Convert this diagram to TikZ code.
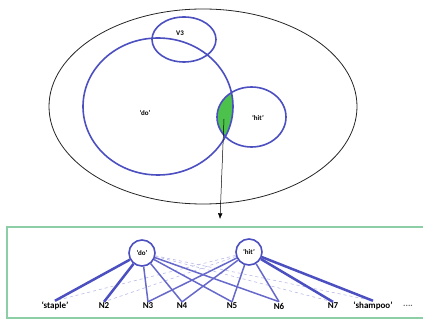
\documentclass[tikz,border=0pt]{standalone}
\usepackage{fontspec}
\setsansfont{Carlito}
\usepackage{tikz}
\usetikzlibrary{arrows.meta,positioning}
\definecolor{vnblue}{HTML}{4B4FC0}
\definecolor{vngreen}{HTML}{4CC24C}
\definecolor{vnframe}{HTML}{8CCFA6}

\begin{document}
\begin{tikzpicture}[x=1pt, y=-1pt,
  font=\sffamily\bfseries\scriptsize,
  set/.style={draw=vnblue, line width=1.6pt},
  word/.style={circle, draw=vnblue, line width=1.6pt, minimum size=26pt, inner sep=0pt, fill=white},
  leaf/.style={inner sep=1pt, font=\sffamily\bfseries\small},
  strong/.style={draw=vnblue, line width=2.5pt},
  mid/.style={draw=vnblue!85, line width=1.5pt},
  weak/.style={draw=vnblue!40, line width=0.6pt, dashed},
  arr/.style={-{Latex[length=2mm,width=1.6mm]}, line width=0.5pt}]
\useasboundingbox (0,0) rectangle (423,320);
% venn part
\draw[line width=0.8pt, black!85] (203,106.5) ellipse [x radius=154, y radius=97.5];
\begin{scope}
  \clip (158,106.5) ellipse [x radius=75, y radius=68.5];
  \fill[vngreen] (251.5,117) ellipse [x radius=34.5, y radius=30];
\end{scope}
\draw[set] (158,106.5) ellipse [x radius=75, y radius=68.5];
\draw[set] (184,39.5) ellipse [x radius=32, y radius=22.5];
\draw[set] (251.5,117) ellipse [x radius=34.5, y radius=30];
\node (v3) at (180,33) {V3};
\node (dolab) at (145,113) {`do'};
\node (hitlab) at (258,118) {`hit'};
\coordinate (lens) at (224,119);
\coordinate (tip) at (220,219);
\draw[arr] (lens) -- (tip);
% graph part
\draw[draw=vnframe, line width=1.2pt] (7,227) rectangle (430,318);
\node[word] (do) at (142,253) {`do'};
\node[word] (hit) at (249,252) {`hit'};
\node[leaf] (staple) at (55,306) {`staple'};
\node[leaf] (n2) at (104,306) {N2};
\node[leaf] (n3) at (148,306) {N3};
\node[leaf] (n4) at (182,306) {N4};
\node[leaf] (n5) at (232,306) {N5};
\node[leaf] (n6) at (279,306) {N6};
\node[leaf] (n7) at (333,306) {N7};
\node[leaf] (shampoo) at (373,306) {`shampoo'};
\node[leaf, text=black!60] (more) at (408,306) {....};
\foreach \t in {n7,shampoo} \draw[weak] (do) -- (\t.north);
\foreach \t in {staple,n2} \draw[weak] (hit) -- (\t.north);
\foreach \t in {n3,n4,n5,n6} {
  \draw[mid] (do) -- (\t.north);
  \draw[mid] (hit) -- (\t.north);
}
\foreach \t in {staple,n2} \draw[strong] (do) -- (\t.north);
\foreach \t in {n7,shampoo} \draw[strong] (hit) -- (\t.north);
\end{tikzpicture}
\end{document}
